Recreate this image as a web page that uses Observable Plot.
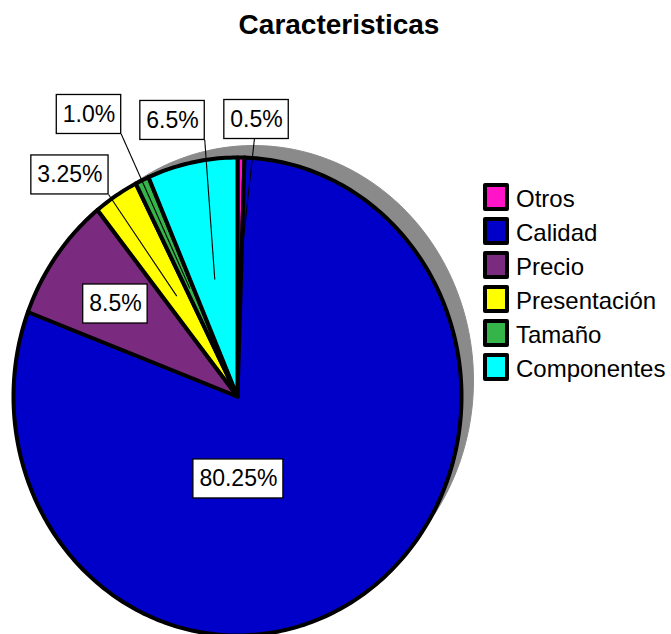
<!DOCTYPE html>
<html><head><meta charset="utf-8">
<script src="https://cdn.jsdelivr.net/npm/d3@7"></script>
<script src="https://cdn.jsdelivr.net/npm/@observablehq/plot@0.6"></script>
<style>
body{margin:0;background:#fff;font-family:"Liberation Sans",Arial,sans-serif;color:#000}
#wrap{position:relative;width:671px;height:634px;overflow:hidden}
#chart{position:absolute;left:0;top:0}
#title{position:absolute;left:0;width:678px;top:11px;text-align:center;font-weight:bold;font-size:28px;line-height:28px}
#legend{position:absolute;left:483px;top:183px}
.row{display:flex;align-items:center;height:28px;margin-bottom:6px}
.sw{width:18px;height:20px;border:4px solid #000;border-radius:2px}
.lab{margin-left:7px;font-size:24px;line-height:24px;padding-top:3px;white-space:nowrap}
#chart svg > g:first-of-type{filter:blur(0.7px)}
</style></head><body>
<div id="wrap"><div id="chart"></div><div id="title">Caracteristicas</div><div id="legend"></div></div>
<script>
// ---- data ----
const categories = ["Otros", "Calidad", "Precio", "Presentación", "Tamaño", "Componentes"];
const percents = [0.5, 80.25, 8.5, 3.25, 1.0, 6.5];
const percentLabels = ["0.5%", "80.25%", "8.5%", "3.25%", "1.0%", "6.5%"];
const colors = ["#ff14c8", "#0000c8", "#7a2b80", "#ffff00", "#35b44a", "#00ffff"];

// ---- layout (label box centres in the pie's unit coordinates) ----
const labelX = [0.085, 0.004, -0.545, -0.748, -0.663, -0.290];
const labelY = [1.159, -0.345, 0.387, 0.927, 1.180, 1.155];
const hasLeader = [true, false, false, true, true, true];

const RX = [13, 461], RY = [635, 157];
const kx = (RX[1] - RX[0]) / 2, ky = (RY[0] - RY[1]) / 2;
const FONT_LABEL = 23;

// ---- slice geometry ----
const total = d3.sum(percents);
let acc = 0;
const slices = categories.map((c, i) => {
  const a0 = acc / total * 2 * Math.PI; acc += percents[i];
  const a1 = acc / total * 2 * Math.PI;
  return {c, i, a0, a1, mid: (a0 + a1) / 2};
});
const pts = [];
for (const s of slices) {
  pts.push({c: s.c, x: 0, y: 0});
  const n = Math.max(2, Math.ceil((s.a1 - s.a0) / (Math.PI / 180)));
  for (let k = 0; k <= n; k++) {
    const a = s.a0 + (s.a1 - s.a0) * k / n;
    pts.push({c: s.c, x: Math.sin(a), y: Math.cos(a)});
  }
}
// shadow ellipse (slightly smaller, offset up-right)
const shrink = 4;
const shadow = d3.range(0, 361, 2).map(d => {
  const a = d * Math.PI / 180;
  return {x: Math.sin(a) * (1 - shrink / kx), y: Math.cos(a) * (1 - shrink / ky)};
});

// ---- labels ----
const ctx = document.createElement("canvas").getContext("2d");
ctx.font = `${FONT_LABEL}px "Liberation Sans", Arial, sans-serif`;
const toPx = (x, y) => [RX[0] + (x + 1) * kx, RY[0] - (y + 1) * ky];
const toData = (px, py) => [(px - RX[0]) / kx - 1, (RY[0] - py) / ky - 1];
const labels = slices.map((s, i) => {
  const tw = ctx.measureText(percentLabels[i]).width;
  const hw = tw / 2 + 6, hh = 19.5;
  const [cx, cy] = toPx(labelX[i], labelY[i]);
  const tx = Math.sin(s.mid) * 0.5, ty = Math.cos(s.mid) * 0.5;
  const [tpx, tpy] = toPx(tx, ty);
  let spx = cx, spy = cy;
  if (tpx < cx - hw || tpx > cx + hw) {
    spx = Math.max(cx - hw, Math.min(cx + hw, tpx));
    spy = Math.max(cy - hh, Math.min(cy + hh, tpy));
  }
  const [sx, sy] = toData(spx, spy);
  const [x1, y1] = toData(cx - hw, cy + hh);
  const [x2, y2] = toData(cx + hw, cy - hh);
  return {text: percentLabels[i], x: labelX[i], y: labelY[i], x1, x2, y1, y2, sx, sy, tx, ty, leader: hasLeader[i]};
});

const chart = Plot.plot({
  width: 671, height: 634,
  x: {domain: [-1, 1], range: RX, axis: null},
  y: {domain: [-1, 1], range: RY, axis: null},
  color: {domain: categories, range: colors},
  marks: [
    Plot.line(shadow, {x: "x", y: "y", fill: "#8a8a8a", stroke: "#8a8a8a", strokeWidth: 1, curve: "linear-closed", dx: 16, dy: -16}),
    Plot.line(pts, {x: "x", y: "y", z: "c", fill: "c", stroke: "#000", strokeWidth: 4, curve: "linear-closed", strokeLinejoin: "round"}),
    Plot.link(labels.filter(d => d.leader), {x1: "sx", y1: "sy", x2: "tx", y2: "ty", stroke: "#000", strokeWidth: 1.1}),
    Plot.rect(labels, {x1: "x1", x2: "x2", y1: "y1", y2: "y2", fill: "#fff", stroke: "#000", strokeWidth: 1.3}),
    Plot.text(labels, {x: "x", y: "y", text: "text", fontSize: FONT_LABEL, fill: "#000", fontFamily: "Liberation Sans, Arial, sans-serif"})
  ]
});
chart.style.background = "transparent";
document.getElementById("chart").appendChild(chart);

// ---- legend ----
const legend = document.getElementById("legend");
categories.forEach((c, i) => {
  const row = document.createElement("div"); row.className = "row";
  const sw = document.createElement("div"); sw.className = "sw"; sw.style.background = colors[i];
  const lab = document.createElement("div"); lab.className = "lab"; lab.textContent = c;
  row.appendChild(sw); row.appendChild(lab); legend.appendChild(row);
});
</script>
</body></html>
